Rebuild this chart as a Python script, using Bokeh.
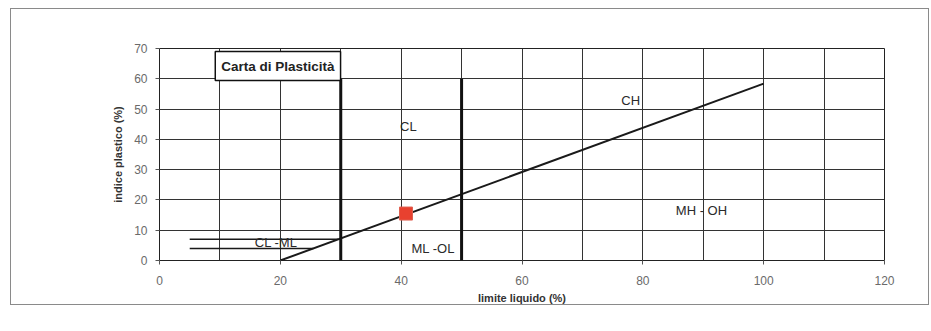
from bokeh.plotting import figure
from bokeh.models import SingleIntervalTicker, Label, ColumnDataSource
from bokeh.core.properties import value
from bokeh.embed import file_html
from bokeh.resources import INLINE

# ---- data ----
x_ticks = [0, 20, 40, 60, 80, 100, 120]
y_ticks = [0, 10, 20, 30, 40, 50, 60, 70]

a_line_x = [20, 100]
a_line_y = [0, 58.4]

boundary_x = [30, 50]
boundary_top = [60, 60]

clml_y = [7, 4]
clml_x_start = [5, 5]
clml_x_end = [20 + 7 / 0.73, 20 + 4 / 0.73]

sample_x = [40.8]
sample_y = [15.5]

zone_labels = ["CL", "CH", "MH - OH", "ML -OL", "CL -ML"]
zone_x = [41.2, 78, 89.7, 45.3, 19.3]
zone_y = [44.2, 52.8, 16.5, 3.9, 5.9]

FONT = "Liberation Sans"

p = figure(width=919, height=297, x_range=(0, 120), y_range=(0, 70),
           output_backend="svg", toolbar_location=None,
           min_border_left=148, min_border_right=46, min_border_top=39, min_border_bottom=42)
p.styles = {"border": "1px solid #8a8a8a", "margin-left": "10px", "margin-top": "8px"}
p.background_fill_color = "white"
p.border_fill_color = "white"
p.outline_line_color = "#222222"
p.outline_line_width = 1

p.xaxis.ticker = x_ticks
p.yaxis.ticker = y_ticks
p.xgrid.ticker = SingleIntervalTicker(interval=10)
p.ygrid.ticker = SingleIntervalTicker(interval=10)
for g in (p.xgrid, p.ygrid):
    g.grid_line_color = "#333333"
    g.grid_line_width = 1
    g.grid_line_alpha = 1

for ax in (p.xaxis, p.yaxis):
    ax.axis_line_color = None
    ax.major_tick_line_color = "#555555"
    ax.major_tick_out = 4
    ax.major_tick_in = 0
    ax.minor_tick_line_color = None
    ax.major_label_text_font = FONT
    ax.major_label_text_font_size = "12px"
    ax.major_label_text_color = "#6a6a6a"
    ax.axis_label_text_font = FONT
    ax.axis_label_text_font_size = "11px"
    ax.axis_label_text_font_style = "bold"
    ax.axis_label_text_color = "#333333"

p.xaxis.axis_label = "limite liquido (%)"
p.yaxis.axis_label = "indice plastico (%)"
p.xaxis.major_label_standoff = 11
p.xaxis.axis_label_standoff = 4
p.yaxis.major_label_standoff = 8
p.yaxis.axis_label_standoff = 7

# A-line
p.line(a_line_x, a_line_y, line_color="#1a1a1a", line_width=2)
# LL boundaries
p.segment(x0=boundary_x, y0=[0, 0], x1=boundary_x, y1=boundary_top,
          line_color="#111111", line_width=3)
# CL-ML band
p.segment(x0=clml_x_start, y0=clml_y, x1=clml_x_end, y1=clml_y,
          line_color="#1a1a1a", line_width=1.5)
# sample
p.scatter(sample_x, sample_y, marker="square", size=13,
          fill_color="#e8412f", line_color="#e06050", line_width=1)

src = ColumnDataSource(dict(x=zone_x, y=zone_y, t=zone_labels))
p.text(x="x", y="y", text="t", source=src, text_font=value(FONT),
       text_font_size="13px", text_color="#2a2a2a",
       text_align="center", text_baseline="middle")

title = Label(x=19.6, y=64.2, text="Carta di Plasticità", text_font=FONT,
              text_font_size="13.5px", text_font_style="bold", text_color="#222222",
              text_align="center", text_baseline="middle",
              background_fill_color="white", border_line_color="#111111",
              border_line_width=1.5, padding=(6, 7))
p.add_layout(title)

open("out.html", "w").write(file_html(p, INLINE))
